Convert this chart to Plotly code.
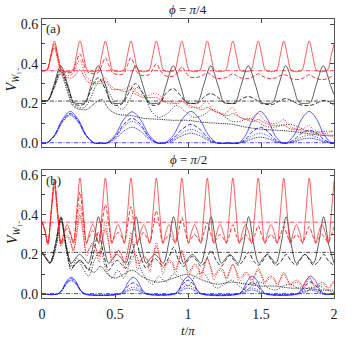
import plotly.graph_objects as go

# ---------------- panel (a): phi = pi/4 ----------------
t_red_a = [0, 0.035, 0.06, 0.085, 0.11, 0.135, 0.172,
           0.21, 0.235, 0.26, 0.285, 0.31, 0.347,
           0.384, 0.409, 0.434, 0.459, 0.484, 0.521,
           0.559, 0.584, 0.609, 0.634, 0.659, 0.696,
           0.733, 0.758, 0.783, 0.808, 0.833, 0.870,
           0.908, 0.933, 0.958, 0.983, 1.008, 1.045,
           1.082, 1.107, 1.132, 1.157, 1.182, 1.219,
           1.257, 1.282, 1.307, 1.332, 1.357, 1.394,
           1.431, 1.456, 1.481, 1.506, 1.531, 1.568,
           1.606, 1.631, 1.656, 1.681, 1.706, 1.743,
           1.780, 1.805, 1.830, 1.855, 1.880, 1.917,
           1.955, 1.980, 2.0]
red_solid_a = [0.365, 0.37, 0.44, 0.515, 0.44, 0.368, 0.36,
               0.368, 0.44, 0.515, 0.44, 0.368, 0.36,
               0.368, 0.44, 0.515, 0.44, 0.368, 0.36,
               0.368, 0.44, 0.515, 0.44, 0.368, 0.36,
               0.368, 0.44, 0.515, 0.44, 0.368, 0.36,
               0.368, 0.44, 0.515, 0.44, 0.368, 0.36,
               0.368, 0.44, 0.515, 0.44, 0.368, 0.36,
               0.368, 0.44, 0.515, 0.44, 0.368, 0.36,
               0.368, 0.44, 0.515, 0.44, 0.368, 0.36,
               0.368, 0.44, 0.515, 0.44, 0.368, 0.36,
               0.368, 0.44, 0.515, 0.44, 0.368, 0.36,
               0.368, 0.44, 0.50]
red_dash_a = [0.365, 0.37, 0.44, 0.50, 0.43, 0.37, 0.355,
              0.36, 0.41, 0.45, 0.40, 0.36, 0.35,
              0.355, 0.39, 0.43, 0.39, 0.355, 0.345,
              0.35, 0.39, 0.43, 0.39, 0.35, 0.34,
              0.345, 0.37, 0.40, 0.37, 0.345, 0.335,
              0.34, 0.36, 0.385, 0.36, 0.335, 0.33,
              0.335, 0.345, 0.355, 0.345, 0.33, 0.325,
              0.33, 0.34, 0.35, 0.34, 0.33, 0.325,
              0.33, 0.34, 0.35, 0.34, 0.33, 0.325,
              0.33, 0.34, 0.345, 0.34, 0.325, 0.32,
              0.325, 0.335, 0.345, 0.335, 0.325, 0.32,
              0.325, 0.335, 0.34]
red_dot_a = [0.365, 0.37, 0.44, 0.49, 0.42, 0.36, 0.34,
             0.35, 0.39, 0.42, 0.37, 0.33, 0.31,
             0.31, 0.32, 0.33, 0.30, 0.28, 0.27,
             0.27, 0.28, 0.29, 0.27, 0.25, 0.24,
             0.24, 0.25, 0.25, 0.24, 0.21, 0.20,
             0.20, 0.21, 0.22, 0.20, 0.18, 0.18,
             0.18, 0.20, 0.21, 0.18, 0.16, 0.15,
             0.15, 0.17, 0.18, 0.15, 0.13, 0.12,
             0.12, 0.14, 0.15, 0.13, 0.11, 0.10,
             0.10, 0.11, 0.12, 0.10, 0.08, 0.07,
             0.07, 0.08, 0.09, 0.07, 0.06, 0.05,
             0.05, 0.06, 0.06]
red_fine_a = [0.365, 0.37, 0.43, 0.48, 0.41, 0.35, 0.33,
              0.33, 0.35, 0.37, 0.34, 0.31, 0.30,
              0.30, 0.30, 0.31, 0.29, 0.27, 0.27,
              0.26, 0.26, 0.27, 0.25, 0.24, 0.23,
              0.23, 0.23, 0.23, 0.22, 0.21, 0.21,
              0.20, 0.20, 0.21, 0.20, 0.19, 0.18,
              0.17, 0.17, 0.18, 0.17, 0.16, 0.15,
              0.14, 0.14, 0.15, 0.14, 0.13, 0.12,
              0.11, 0.11, 0.12, 0.11, 0.10, 0.09,
              0.09, 0.09, 0.09, 0.08, 0.07, 0.07,
              0.06, 0.06, 0.06, 0.05, 0.05, 0.04,
              0.04, 0.04, 0.04]

t_blk_a = [0, 0.04, 0.08, 0.128, 0.178, 0.218, 0.256,
           0.295, 0.335, 0.385, 0.435, 0.475, 0.513,
           0.552, 0.592, 0.642, 0.692, 0.732, 0.770,
           0.809, 0.849, 0.899, 0.949, 0.989, 1.027,
           1.066, 1.106, 1.156, 1.206, 1.246, 1.284,
           1.323, 1.363, 1.413, 1.463, 1.503, 1.541,
           1.580, 1.620, 1.670, 1.720, 1.760, 1.798,
           1.837, 1.877, 1.927, 1.977, 2.0]
blk_solid_a = [0.212, 0.215, 0.29, 0.39, 0.29, 0.205, 0.2,
               0.205, 0.29, 0.39, 0.29, 0.205, 0.2,
               0.205, 0.29, 0.39, 0.29, 0.205, 0.2,
               0.205, 0.29, 0.39, 0.29, 0.205, 0.2,
               0.205, 0.29, 0.39, 0.29, 0.205, 0.2,
               0.205, 0.29, 0.39, 0.29, 0.205, 0.2,
               0.205, 0.29, 0.39, 0.29, 0.205, 0.2,
               0.205, 0.29, 0.39, 0.29, 0.245]
blk_dash_a = [0.212, 0.215, 0.28, 0.37, 0.28, 0.20, 0.19,
              0.20, 0.27, 0.33, 0.27, 0.20, 0.19,
              0.20, 0.25, 0.30, 0.25, 0.20, 0.19,
              0.20, 0.25, 0.275, 0.24, 0.205, 0.20,
              0.20, 0.23, 0.25, 0.23, 0.205, 0.20,
              0.20, 0.22, 0.235, 0.22, 0.20, 0.195,
              0.195, 0.21, 0.225, 0.21, 0.195, 0.19,
              0.19, 0.20, 0.215, 0.205, 0.19]

t_blk_dot_a = [0, 0.04, 0.08, 0.128, 0.17, 0.21, 0.25, 0.29, 0.33, 0.37, 0.41, 0.45,
               0.5, 0.55, 0.6, 0.65, 0.7, 0.75, 0.8, 0.86, 0.92, 0.98, 1.04, 1.1,
               1.17, 1.24, 1.3, 1.36, 1.41, 1.47, 1.53, 1.59, 1.65, 1.7, 1.76, 1.82,
               1.88, 1.94, 2.0]
blk_dot_a = [0.212, 0.215, 0.28, 0.36, 0.29, 0.2, 0.18, 0.18, 0.22, 0.29, 0.32, 0.27,
             0.2, 0.17, 0.22, 0.28, 0.24, 0.16, 0.13, 0.15, 0.19, 0.16, 0.13, 0.14,
             0.17, 0.14, 0.11, 0.11, 0.125, 0.11, 0.085, 0.08, 0.09, 0.095, 0.08, 0.06,
             0.055, 0.06, 0.06]
t_blk_fine_a = [0, 0.04, 0.08, 0.128, 0.17, 0.21, 0.26, 0.31, 0.36, 0.41, 0.46, 0.52,
                0.6, 0.7, 0.8, 0.9, 1.0, 1.1, 1.2, 1.3, 1.4, 1.5, 1.6, 1.7, 1.8, 1.9, 2.0]
blk_fine_a = [0.212, 0.215, 0.27, 0.35, 0.27, 0.19, 0.17, 0.17, 0.2, 0.22, 0.17, 0.145,
              0.14, 0.125, 0.12, 0.115, 0.115, 0.105, 0.1, 0.095, 0.08, 0.07, 0.065,
              0.06, 0.05, 0.04, 0.035]

t_blu_a = [0, 0.029, 0.085, 0.14, 0.194, 0.248, 0.303, 0.359, 0.40,
           0.442, 0.501, 0.559, 0.617, 0.675, 0.733, 0.792, 0.816,
           0.84, 0.9, 0.96, 1.02, 1.08, 1.14, 1.2, 1.27,
           1.345, 1.395, 1.445, 1.495, 1.545, 1.595, 1.645, 1.66,
           1.675, 1.727, 1.778, 1.83, 1.882, 1.933, 1.985, 2.0]
blu_solid_a = [0, 0, 0.04, 0.12, 0.16, 0.12, 0.04, 0, 0,
               0, 0.04, 0.118, 0.158, 0.118, 0.04, 0, 0,
               0, 0.04, 0.12, 0.16, 0.12, 0.04, 0, 0,
               0, 0.04, 0.12, 0.16, 0.12, 0.04, 0, 0,
               0, 0.04, 0.12, 0.16, 0.12, 0.04, 0, 0]
blu_dash_a = [0, 0, 0.038, 0.113, 0.15, 0.113, 0.038, 0, 0,
              0, 0.031, 0.094, 0.125, 0.094, 0.031, 0, 0,
              0, 0.025, 0.07, 0.095, 0.07, 0.025, 0, 0,
              0, 0.02, 0.06, 0.08, 0.06, 0.02, 0, 0,
              0, 0.017, 0.05, 0.065, 0.05, 0.017, 0, 0]
blu_dot_a = [0, 0, 0.036, 0.109, 0.145, 0.109, 0.036, 0, 0,
             0, 0.028, 0.083, 0.11, 0.083, 0.028, 0, 0,
             0, 0.018, 0.052, 0.07, 0.052, 0.018, 0, 0,
             0, 0.013, 0.038, 0.05, 0.038, 0.013, 0, 0,
             0, 0.01, 0.03, 0.04, 0.03, 0.01, 0, 0]
blu_fine_a = [0, 0, 0.035, 0.105, 0.14, 0.105, 0.035, 0, 0,
              0, 0.02, 0.06, 0.08, 0.06, 0.02, 0, 0,
              0, 0.013, 0.038, 0.05, 0.038, 0.013, 0, 0,
              0, 0.008, 0.023, 0.03, 0.023, 0.008, 0, 0,
              0, 0.006, 0.019, 0.025, 0.019, 0.006, 0, 0]

# ---------------- panel (b): phi = pi/2 ----------------
t_red_b = [0, 0.02, 0.04, 0.063, 0.085, 0.107, 0.13, 0.15, 0.172,
           0.195, 0.215, 0.238, 0.26, 0.282, 0.305, 0.325, 0.347,
           0.369, 0.389, 0.412, 0.434, 0.456, 0.479, 0.499, 0.521,
           0.544, 0.564, 0.587, 0.609, 0.631, 0.654, 0.674, 0.696,
           0.718, 0.738, 0.761, 0.783, 0.805, 0.828, 0.848, 0.870,
           0.893, 0.913, 0.936, 0.958, 0.980, 1.003, 1.023, 1.045,
           1.067, 1.087, 1.110, 1.132, 1.154, 1.177, 1.197, 1.219,
           1.242, 1.262, 1.285, 1.307, 1.329, 1.352, 1.372, 1.394,
           1.416, 1.436, 1.459, 1.481, 1.503, 1.526, 1.546, 1.568,
           1.591, 1.611, 1.634, 1.656, 1.678, 1.701, 1.721, 1.743,
           1.765, 1.785, 1.808, 1.830, 1.852, 1.875, 1.895, 1.917,
           1.940, 1.960, 1.983, 2.0]
red_solid_b = [0.365, 0.32, 0.255, 0.42, 0.575, 0.42, 0.255, 0.31, 0.35,
               0.31, 0.255, 0.42, 0.585, 0.42, 0.255, 0.31, 0.35,
               0.31, 0.255, 0.42, 0.585, 0.42, 0.255, 0.31, 0.35,
               0.31, 0.255, 0.42, 0.585, 0.42, 0.255, 0.31, 0.35,
               0.31, 0.255, 0.42, 0.585, 0.42, 0.255, 0.31, 0.35,
               0.31, 0.255, 0.42, 0.585, 0.42, 0.255, 0.31, 0.35,
               0.31, 0.255, 0.42, 0.585, 0.42, 0.255, 0.31, 0.35,
               0.31, 0.255, 0.42, 0.585, 0.42, 0.255, 0.31, 0.35,
               0.31, 0.255, 0.42, 0.585, 0.42, 0.255, 0.31, 0.35,
               0.31, 0.255, 0.42, 0.585, 0.42, 0.255, 0.31, 0.35,
               0.31, 0.255, 0.42, 0.585, 0.42, 0.255, 0.31, 0.35,
               0.31, 0.255, 0.42, 0.57]
red_dash_b = [0.365, 0.32, 0.25, 0.42, 0.565, 0.41, 0.255, 0.30, 0.33,
              0.30, 0.26, 0.39, 0.515, 0.38, 0.26, 0.29, 0.32,
              0.29, 0.26, 0.36, 0.45, 0.36, 0.26, 0.29, 0.31,
              0.29, 0.26, 0.35, 0.44, 0.35, 0.26, 0.285, 0.31,
              0.285, 0.26, 0.34, 0.42, 0.34, 0.26, 0.28, 0.30,
              0.28, 0.26, 0.32, 0.385, 0.32, 0.26, 0.28, 0.30,
              0.28, 0.26, 0.31, 0.36, 0.31, 0.26, 0.28, 0.30,
              0.28, 0.26, 0.30, 0.35, 0.30, 0.26, 0.28, 0.30,
              0.28, 0.26, 0.30, 0.345, 0.30, 0.26, 0.28, 0.30,
              0.28, 0.26, 0.30, 0.34, 0.30, 0.26, 0.28, 0.30,
              0.28, 0.26, 0.30, 0.34, 0.30, 0.26, 0.28, 0.30,
              0.28, 0.26, 0.30, 0.34]
red_dot_b = [0.365, 0.32, 0.25, 0.42, 0.56, 0.40, 0.24, 0.28, 0.30,
             0.27, 0.21, 0.33, 0.45, 0.33, 0.19, 0.23, 0.26,
             0.23, 0.16, 0.27, 0.37, 0.27, 0.15, 0.19, 0.22,
             0.20, 0.13, 0.22, 0.31, 0.22, 0.12, 0.16, 0.19,
             0.17, 0.11, 0.19, 0.26, 0.19, 0.10, 0.14, 0.16,
             0.15, 0.10, 0.16, 0.22, 0.16, 0.09, 0.12, 0.14,
             0.13, 0.08, 0.13, 0.18, 0.13, 0.07, 0.10, 0.12,
             0.11, 0.07, 0.11, 0.15, 0.11, 0.06, 0.08, 0.10,
             0.09, 0.05, 0.09, 0.12, 0.09, 0.05, 0.07, 0.08,
             0.07, 0.04, 0.07, 0.10, 0.07, 0.04, 0.05, 0.06,
             0.05, 0.03, 0.05, 0.08, 0.05, 0.03, 0.04, 0.05,
             0.04, 0.02, 0.04, 0.06]
red_fine_b = [0.365, 0.32, 0.26, 0.40, 0.54, 0.39, 0.25, 0.27, 0.29,
              0.26, 0.22, 0.30, 0.40, 0.30, 0.21, 0.23, 0.25,
              0.23, 0.19, 0.26, 0.33, 0.26, 0.18, 0.20, 0.22,
              0.20, 0.16, 0.22, 0.28, 0.22, 0.15, 0.17, 0.19,
              0.18, 0.14, 0.19, 0.24, 0.19, 0.13, 0.15, 0.17,
              0.16, 0.12, 0.17, 0.21, 0.17, 0.11, 0.13, 0.15,
              0.14, 0.10, 0.14, 0.18, 0.14, 0.09, 0.11, 0.13,
              0.12, 0.08, 0.12, 0.15, 0.12, 0.08, 0.09, 0.11,
              0.10, 0.07, 0.10, 0.13, 0.10, 0.06, 0.08, 0.09,
              0.08, 0.05, 0.08, 0.11, 0.08, 0.05, 0.06, 0.07,
              0.06, 0.04, 0.06, 0.09, 0.06, 0.04, 0.05, 0.06,
              0.05, 0.03, 0.05, 0.07]

t_blk_b = [0, 0.027, 0.054, 0.092,
           0.130, 0.165, 0.200, 0.230, 0.258, 0.287, 0.317, 0.352,
           0.387, 0.422, 0.457, 0.487, 0.515, 0.544, 0.574, 0.609,
           0.644, 0.679, 0.714, 0.744, 0.772, 0.801, 0.831, 0.866,
           0.901, 0.936, 0.971, 1.001, 1.029, 1.058, 1.088, 1.123,
           1.158, 1.193, 1.228, 1.258, 1.286, 1.315, 1.345, 1.380,
           1.415, 1.450, 1.485, 1.515, 1.543, 1.572, 1.602, 1.637,
           1.672, 1.707, 1.742, 1.772, 1.800, 1.829, 1.859, 1.894,
           1.929, 1.964, 2.0]
blk_solid_b = [0.212, 0.18, 0.155, 0.25,
               0.39, 0.25, 0.155, 0.18, 0.2, 0.18, 0.155, 0.25,
               0.39, 0.25, 0.155, 0.18, 0.2, 0.18, 0.155, 0.25,
               0.39, 0.25, 0.155, 0.18, 0.2, 0.18, 0.155, 0.25,
               0.39, 0.25, 0.155, 0.18, 0.2, 0.18, 0.155, 0.25,
               0.39, 0.25, 0.155, 0.18, 0.2, 0.18, 0.155, 0.25,
               0.39, 0.25, 0.155, 0.18, 0.2, 0.18, 0.155, 0.25,
               0.39, 0.25, 0.155, 0.18, 0.2, 0.18, 0.155, 0.25,
               0.39, 0.25, 0.155]
blk_dash_b = [0.212, 0.18, 0.155, 0.25,
              0.385, 0.24, 0.13, 0.15, 0.17, 0.15, 0.12, 0.2,
              0.31, 0.2, 0.12, 0.15, 0.17, 0.15, 0.13, 0.19,
              0.26, 0.18, 0.13, 0.16, 0.18, 0.16, 0.14, 0.18,
              0.235, 0.17, 0.14, 0.17, 0.19, 0.17, 0.14, 0.17,
              0.22, 0.17, 0.14, 0.17, 0.195, 0.17, 0.145, 0.17,
              0.21, 0.165, 0.145, 0.17, 0.2, 0.17, 0.145, 0.165,
              0.2, 0.165, 0.145, 0.175, 0.2, 0.175, 0.145, 0.165,
              0.2, 0.165, 0.145]

t_blk_dot_b = [0, 0.03, 0.06, 0.1, 0.13, 0.17, 0.2, 0.24, 0.28, 0.32, 0.36, 0.4,
               0.44, 0.48, 0.52, 0.56, 0.6, 0.64, 0.68, 0.72, 0.76, 0.8, 0.85, 0.9,
               0.95, 1.0, 1.05, 1.1, 1.15, 1.2, 1.25, 1.3, 1.35, 1.4, 1.45, 1.5,
               1.55, 1.6, 1.65, 1.7, 1.75, 1.8, 1.85, 1.9, 1.95, 2.0]
blk_dot_b = [0.212, 0.18, 0.16, 0.26, 0.38, 0.2, 0.12, 0.18, 0.13, 0.09, 0.17, 0.22,
             0.12, 0.08, 0.12, 0.08, 0.15, 0.2, 0.12, 0.07, 0.05, 0.09, 0.06, 0.1,
             0.08, 0.04, 0.09, 0.11, 0.06, 0.03, 0.05, 0.07, 0.04, 0.02, 0.05, 0.06,
             0.03, 0.02, 0.04, 0.05, 0.03, 0.01, 0.03, 0.04, 0.02, 0.01]
t_blk_fine_b = [0, 0.03, 0.06, 0.1, 0.13, 0.17, 0.21, 0.26, 0.31, 0.36, 0.4, 0.45,
                0.5, 0.56, 0.62, 0.68, 0.74, 0.8, 0.9, 1.0, 1.1, 1.2, 1.3, 1.4,
                1.5, 1.6, 1.7, 1.8, 1.9, 2.0]
blk_fine_b = [0.212, 0.18, 0.16, 0.25, 0.37, 0.22, 0.14, 0.17, 0.13, 0.11, 0.14, 0.1,
              0.08, 0.1, 0.12, 0.09, 0.07, 0.06, 0.08, 0.1, 0.07, 0.05, 0.06, 0.05,
              0.04, 0.04, 0.03, 0.03, 0.02, 0.02]

t_blu_b = [0, 0.105, 0.137, 0.168, 0.2, 0.232, 0.263, 0.295,
           0.53, 0.562, 0.593, 0.625, 0.657, 0.688, 0.72,
           0.905, 0.937, 0.968, 1.0, 1.032, 1.063, 1.095,
           1.345, 1.377, 1.408, 1.44, 1.472, 1.503, 1.535,
           1.745, 1.777, 1.808, 1.84, 1.872, 1.903, 1.935, 2.0]
blu_solid_b = [0, 0, 0.021, 0.064, 0.085, 0.064, 0.021, 0,
               0, 0.021, 0.064, 0.085, 0.064, 0.021, 0,
               0, 0.022, 0.066, 0.088, 0.066, 0.022, 0,
               0, 0.023, 0.068, 0.09, 0.068, 0.023, 0,
               0, 0.023, 0.068, 0.09, 0.068, 0.023, 0, 0]
blu_dash_b = [0, 0, 0.02, 0.059, 0.078, 0.059, 0.02, 0,
              0, 0.014, 0.043, 0.057, 0.043, 0.014, 0,
              0, 0.018, 0.053, 0.07, 0.053, 0.018, 0,
              0, 0.015, 0.044, 0.058, 0.044, 0.015, 0,
              0, 0.015, 0.045, 0.06, 0.045, 0.015, 0, 0]
blu_dot_b = [0, 0, 0.018, 0.054, 0.072, 0.054, 0.018, 0,
             0, 0.009, 0.026, 0.035, 0.026, 0.009, 0,
             0, 0.011, 0.034, 0.045, 0.034, 0.011, 0,
             0, 0.008, 0.023, 0.03, 0.023, 0.008, 0,
             0, 0.009, 0.026, 0.035, 0.026, 0.009, 0, 0]
blu_fine_b = [0, 0, 0.017, 0.051, 0.068, 0.051, 0.017, 0,
              0, 0.006, 0.017, 0.022, 0.017, 0.006, 0,
              0, 0.008, 0.023, 0.03, 0.023, 0.008, 0,
              0, 0.005, 0.015, 0.02, 0.015, 0.005, 0,
              0, 0.005, 0.015, 0.02, 0.015, 0.005, 0, 0]

# time-averaged levels (dash-dot lines)
t_ends = [0, 2]
red_avg = [0.365, 0.362]
blk_avg = [0.212, 0.21]
blu_avg = [0.002, 0.002]

RED, BLK, BLU = "#ff1a1a", "#1a1a1a", "#1a1aff"
DASH = "4px,2px"
DOT = "1px,1.6px"
FINE = "1px,0.8px"
DASHDOT = "4px,1.5px,1px,1.5px"

fig = go.Figure()

def add(t, v, color, dash, ax, w=0.9):
    fig.add_trace(go.Scatter(
        x=t, y=v, mode="lines", xaxis="x" + ax, yaxis="y" + ax,
        line=dict(color=color, width=w, dash=dash, shape="spline", smoothing=0.9),
        showlegend=False, hoverinfo="skip"))

for ax, i in (("", 0), ("2", 1)):
    fig.add_trace(go.Scatter(x=t_ends, y=[red_avg[i]] * 2, mode="lines",
                             xaxis="x" + ax, yaxis="y" + ax, showlegend=False,
                             line=dict(color=RED, width=0.8, dash=DASHDOT)))
    fig.add_trace(go.Scatter(x=t_ends, y=[blk_avg[i]] * 2, mode="lines",
                             xaxis="x" + ax, yaxis="y" + ax, showlegend=False,
                             line=dict(color=BLK, width=0.8, dash=DASHDOT)))
    fig.add_trace(go.Scatter(x=t_ends, y=[blu_avg[i]] * 2, mode="lines",
                             xaxis="x" + ax, yaxis="y" + ax, showlegend=False,
                             line=dict(color=BLU, width=0.8, dash=DASHDOT)))

# panel (a)
add(t_blu_a, blu_fine_a, BLU, FINE, "")
add(t_blu_a, blu_dot_a, BLU, DOT, "")
add(t_blu_a, blu_dash_a, BLU, DASH, "")
add(t_blu_a, blu_solid_a, BLU, "solid", "", 0.7)
add(t_blk_fine_a, blk_fine_a, BLK, FINE, "")
add(t_blk_dot_a, blk_dot_a, BLK, DOT, "")
add(t_blk_a, blk_dash_a, BLK, DASH, "")
add(t_blk_a, blk_solid_a, BLK, "solid", "", 0.7)
add(t_red_a, red_fine_a, RED, FINE, "")
add(t_red_a, red_dot_a, RED, DOT, "")
add(t_red_a, red_dash_a, RED, DASH, "")
add(t_red_a, red_solid_a, RED, "solid", "", 0.7)

# panel (b)
add(t_blu_b, blu_fine_b, BLU, FINE, "2")
add(t_blu_b, blu_dot_b, BLU, DOT, "2")
add(t_blu_b, blu_dash_b, BLU, DASH, "2")
add(t_blu_b, blu_solid_b, BLU, "solid", "2", 0.7)
add(t_blk_fine_b, blk_fine_b, BLK, FINE, "2")
add(t_blk_dot_b, blk_dot_b, BLK, DOT, "2")
add(t_blk_b, blk_dash_b, BLK, DASH, "2")
add(t_blk_b, blk_solid_b, BLK, "solid", "2", 0.7)
add(t_red_b, red_fine_b, RED, FINE, "2")
add(t_red_b, red_dot_b, RED, DOT, "2")
add(t_red_b, red_dash_b, RED, DASH, "2")
add(t_red_b, red_solid_b, RED, "solid", "2", 0.7)

FONT = "Liberation Serif"
xcommon = dict(range=[0, 2], tickvals=[0, 0.5, 1, 1.5, 2], ticktext=["0", "0.5", "1", "1.5", "2"],
               ticks="inside", ticklen=4, tickcolor="#444", showline=True, linecolor="#555",
               linewidth=1, mirror="ticks", showgrid=False, zeroline=False)
ycommon = dict(range=[-0.02, 0.625], tickvals=[0, 0.2, 0.4, 0.6], ticktext=["0.0", "0.2", "0.4", "0.6"],
               ticks="inside", ticklen=4, tickcolor="#444", showline=True, linecolor="#555",
               linewidth=1, mirror="ticks", showgrid=False, zeroline=False,
               minor=dict(tickvals=[0.1, 0.3, 0.5], ticks="inside", ticklen=3, tickcolor="#444"))

fig.update_layout(
    width=350, height=340,
    margin=dict(l=42, r=12, t=18, b=42),
    paper_bgcolor="white", plot_bgcolor="white",
    font=dict(family=FONT, size=14, color="#222"),
    xaxis=dict(xcommon, domain=[0, 1], anchor="y", showticklabels=False),
    yaxis=dict(ycommon, domain=[0.539, 0.996], anchor="x"),
    xaxis2=dict(xcommon, domain=[0, 1], anchor="y2", ticklabelstandoff=3),
    yaxis2=dict(ycommon, domain=[0, 0.457], anchor="x2"),
    annotations=[
        dict(text="<i>ϕ</i> = <i>π</i>/4", x=0.5, y=1.032, xref="paper", yref="paper",
             yanchor="middle", showarrow=False, font=dict(size=13)),
        dict(text="<i>ϕ</i> = <i>π</i>/2", x=0.5, y=0.493, xref="paper", yref="paper",
             yanchor="middle", showarrow=False, font=dict(size=13)),
        dict(text="(a)", x=0.008, y=0.962, xref="paper", yref="paper", xanchor="left",
             yanchor="middle", showarrow=False, font=dict(size=13)),
        dict(text="(b)", x=0.008, y=0.418, xref="paper", yref="paper", xanchor="left",
             yanchor="middle", showarrow=False, font=dict(size=13)),
        dict(text="<i>V</i><sub><i>W</i>₁₋</sub>", x=-0.1, y=0.78, xref="paper", yref="paper",
             xanchor="center", yanchor="middle",
             textangle=-90, showarrow=False, font=dict(size=14)),
        dict(text="<i>V</i><sub><i>W</i>₁₋</sub>", x=-0.1, y=0.235, xref="paper", yref="paper",
             xanchor="center", yanchor="middle",
             textangle=-90, showarrow=False, font=dict(size=14)),
        dict(text="<i>t</i>/<i>π</i>", x=0.5, y=-0.117, xref="paper", yref="paper",
             yanchor="middle", showarrow=False, font=dict(size=13)),
    ],
)

fig.write_html("out.html", config={"staticPlot": True},
               post_script="document.body.style.margin='0';")
